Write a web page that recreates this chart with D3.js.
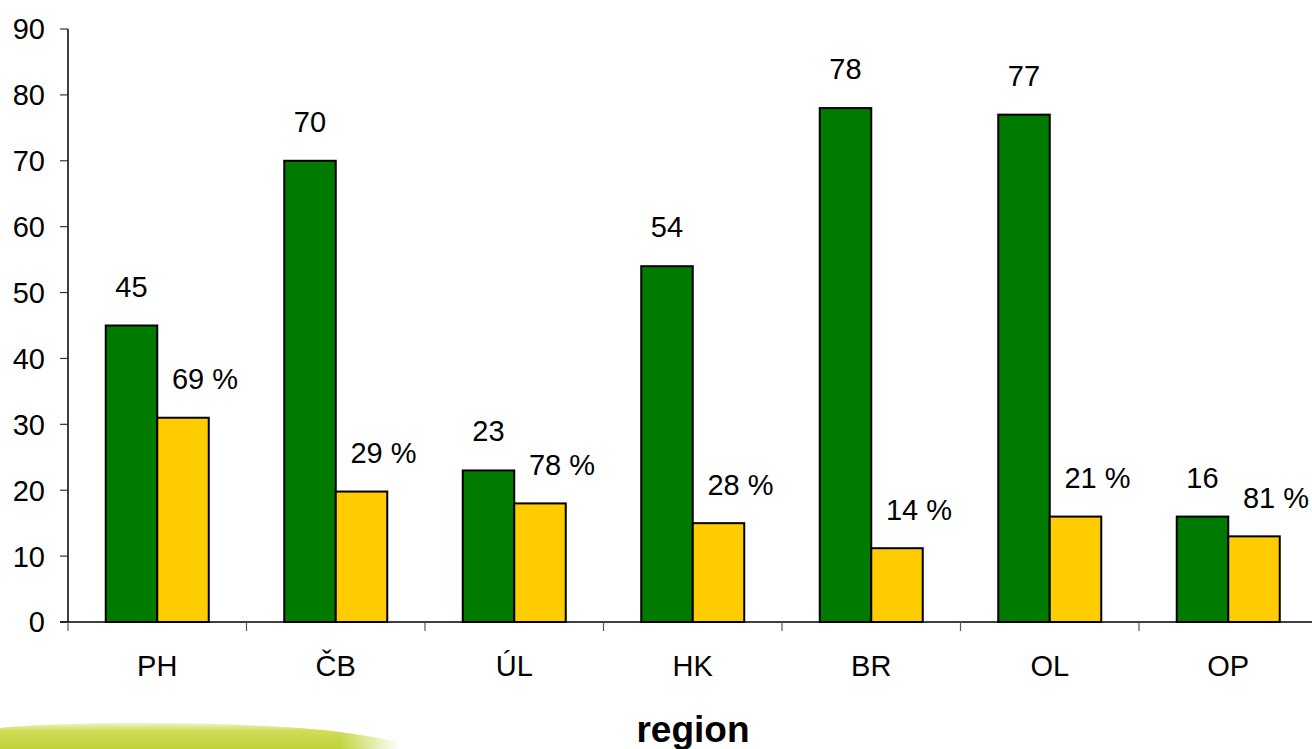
<!DOCTYPE html>
<html><head><meta charset="utf-8">
<script src="https://cdn.jsdelivr.net/npm/d3@7/dist/d3.min.js"></script>
<style>body{margin:0;background:#fff;}svg{display:block;font-family:"Liberation Sans",Arial,sans-serif;}</style>
</head><body>
<svg id="c" width="1312" height="749"></svg>
<script>
const categories = ["PH","ČB","ÚL","HK","BR","OL","OP"];
const greenValues = [45,70,23,54,78,77,16];
const yellowValues = [31,19.8,18,15,11.2,16,13];
const yellowLabels = ["69 %","29 %","78 %","28 %","14 %","21 %","81 %"];
const yTicks = [0,10,20,30,40,50,60,70,80,90];
const series = ["green","yellow"];
const colors = {green:"#007b00", yellow:"#ffcc00"};

const svg = d3.select("#c");

// decorative swoosh bottom-left
const defs = svg.append("defs");
const g1 = defs.append("linearGradient").attr("id","sw").attr("x1",0).attr("y1",0).attr("x2",0).attr("y2",1);
g1.append("stop").attr("offset","0").attr("stop-color","#eef3c8");
g1.append("stop").attr("offset","0.3").attr("stop-color","#cfdc55");
g1.append("stop").attr("offset","1").attr("stop-color","#bfd23a");
const g2 = defs.append("linearGradient").attr("id","fade").attr("x1",0).attr("y1",0).attr("x2",1).attr("y2",0);
g2.append("stop").attr("offset","0").attr("stop-color","#fff").attr("stop-opacity",1);
g2.append("stop").attr("offset","0.85").attr("stop-color","#fff").attr("stop-opacity",1);
g2.append("stop").attr("offset","1").attr("stop-color","#fff").attr("stop-opacity",0);
const m = defs.append("mask").attr("id","m");
m.append("rect").attr("x",0).attr("y",700).attr("width",400).attr("height",49).attr("fill","url(#fade)");
svg.append("path")
  .attr("d","M0,728 C60,722 200,721 300,728 C340,731 370,736 400,742 L400,749 L0,749 Z")
  .attr("fill","url(#sw)").attr("mask","url(#m)");

const x = d3.scaleBand().domain(categories).range([68,1317.5]).padding(0);
const x1 = d3.scaleBand().domain(series).range([0,x.bandwidth()]).paddingInner(0).paddingOuter(0.733);
const y = d3.scaleLinear().domain([0,90]).range([622,29]);

// y axis
svg.append("line").attr("x1",68).attr("x2",68).attr("y1",y(90)).attr("y2",y(0)).attr("stroke","#000").attr("stroke-width",1.5);
svg.selectAll(".yt").data(yTicks).enter().append("line")
  .attr("x1",60).attr("x2",68).attr("y1",d=>y(d)).attr("y2",d=>y(d)).attr("stroke","#333").attr("stroke-width",1.2);
svg.selectAll(".yl").data(yTicks).enter().append("text")
  .attr("x",45).attr("y",d=>y(d)).attr("dy","0.36em").attr("text-anchor","end")
  .attr("font-size",29).attr("fill","#000").text(d=>d);

// bars
const groups = svg.selectAll(".grp").data(categories).enter().append("g")
  .attr("transform",d=>`translate(${x(d)},0)`);
groups.append("rect").attr("x",x1("green")).attr("width",x1.bandwidth())
  .attr("y",(d,i)=>y(greenValues[i])).attr("height",(d,i)=>y(0)-y(greenValues[i]))
  .attr("fill",colors.green).attr("stroke","#000").attr("stroke-width",2);
groups.append("rect").attr("x",x1("yellow")).attr("width",x1.bandwidth())
  .attr("y",(d,i)=>y(yellowValues[i])).attr("height",(d,i)=>y(0)-y(yellowValues[i]))
  .attr("fill",colors.yellow).attr("stroke","#000").attr("stroke-width",2);
groups.append("text").attr("x",x1("green")+x1.bandwidth()/2).attr("y",(d,i)=>y(greenValues[i])-29)
  .attr("text-anchor","middle").attr("font-size",29).text((d,i)=>greenValues[i]);
groups.append("text").attr("x",x1("yellow")+x1.bandwidth()/2+22).attr("y",(d,i)=>y(yellowValues[i])-28.5)
  .attr("text-anchor","middle").attr("font-size",29).text((d,i)=>yellowLabels[i]);

// x axis
svg.append("line").attr("x1",60).attr("x2",1312).attr("y1",y(0)).attr("y2",y(0)).attr("stroke","#000").attr("stroke-width",1.5);
const bounds = categories.map(c=>x(c)).concat([x.range()[1]]);
svg.selectAll(".xt").data(bounds).enter().append("line")
  .attr("x1",d=>d).attr("x2",d=>d).attr("y1",y(0)).attr("y2",y(0)+9).attr("stroke","#555").attr("stroke-width",1.2);
svg.selectAll(".xl").data(categories).enter().append("text")
  .attr("x",d=>x(d)+x.bandwidth()/2).attr("y",676).attr("text-anchor","middle")
  .attr("font-size",29).text(d=>d);

svg.append("text").attr("x",693).attr("y",742).attr("text-anchor","middle")
  .attr("font-size",37).attr("font-weight","bold").text("region");
</script>
</body></html>
